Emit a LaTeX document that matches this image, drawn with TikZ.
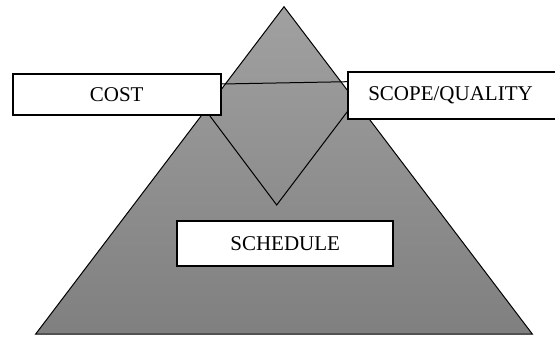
\documentclass[tikz,border=0pt]{standalone}
\usepackage{fontspec}
\setmainfont{Liberation Serif}
\usetikzlibrary{calc}
\pgfdeclarelayer{background}
\pgfsetlayers{background,main}
\tikzset{
  labelbox/.style={draw=black, fill=white, line width=2pt, inner sep=0pt,
    font=\fontsize{21}{25}\selectfont},
  thinline/.style={draw=black, line width=1pt, line join=miter}
}
\begin{document}
\begin{tikzpicture}[x=1pt,y=-1pt]
  \useasboundingbox (0,0) rectangle (555,337);
  % the three label boxes
  \node[labelbox, minimum width=208pt, minimum height=40.7pt] (cost) at (116.7,94.7) {COST};
  \node[labelbox, anchor=west, text width=195pt, align=left, inner xsep=20pt,
        minimum height=47.6pt] (scope) at (347.3,95.5) {SCOPE/QUALITY};
  \node[labelbox, minimum width=216.3pt, minimum height=44.7pt] (schedule) at (285.2,243.3) {SCHEDULE};
  \begin{pgfonlayer}{background}
    % outer triangle with a soft vertical grey shading
    \coordinate (top) at (284,6.7);
    \coordinate (bl) at (35.7,334);
    \coordinate (br) at (532.3,334);
    \path[thinline, top color=black!37, bottom color=black!50]
      (top) -- (bl) -- (br) -- cycle;
    % inner diamond joining the boxes
    \coordinate (low) at (276.7,205);
    \draw[thinline] ($(cost.east)+(0,-10.7)$) -- ($(scope.west)+(0,-13.8)$);
    \draw[thinline] ($(cost.south east)+(-11.7,0)$) -- (low) -- ($(scope.west)+(0,16.2)$);
  \end{pgfonlayer}
\end{tikzpicture}
\end{document}
